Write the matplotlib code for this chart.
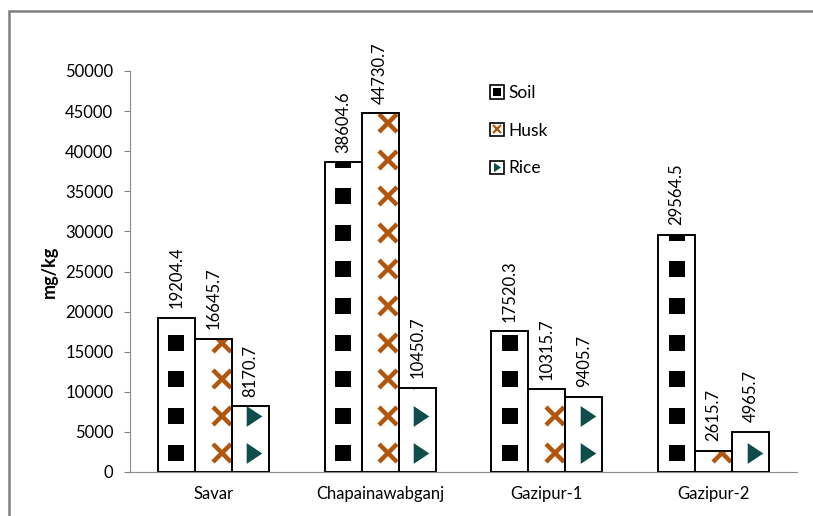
import matplotlib
matplotlib.use("Agg")
from matplotlib import pyplot as plt
from matplotlib.patches import Rectangle, Patch
from matplotlib.lines import Line2D
import numpy as np

plt.rcParams["font.family"] = ["Lato", "DejaVu Sans"]

categories = ["Savar", "Chapainawabganj", "Gazipur-1", "Gazipur-2"]
soil = [19204.4, 38604.6, 17520.3, 29564.5]
husk = [16645.7, 44730.7, 10315.7, 2615.7]
rice = [8170.7, 10450.7, 9405.7, 4965.7]

series_names = ["Soil", "Husk", "Rice"]
HUSK_COLOR = "#b2560d"
RICE_COLOR = "#0d4d4a"
TRI = [(-0.75, -1.0), (0.75, 0.0), (-0.75, 1.0)]

# pattern fill: one marker per row, clipped to the bar outline
PATTERN_START = 2400
PATTERN_STEP = 4570
patterns = [
    dict(marker="s", ms=12, color="black", mew=0, dx=0.0),
    dict(marker="x", ms=13, color=HUSK_COLOR, mew=3.2, dx=0.05),
    dict(marker=TRI, ms=15, color=RICE_COLOR, mew=0, dx=0.024),
]

fig = plt.figure(figsize=(8.13, 5.16), dpi=100)
ax = fig.add_axes([130 / 813, 1 - 472 / 516, 667 / 813, 401 / 516])

x = np.arange(len(categories))
width = 0.222
for i, vals in enumerate([soil, husk, rice]):
    pos = x + (i - 1) * width
    bars = ax.bar(pos, vals, width, facecolor="white", edgecolor="black",
                  linewidth=1.2, zorder=3)
    p = patterns[i]
    for bar, xc, v in zip(bars, pos, vals):
        ys = np.arange(PATTERN_START, v + PATTERN_STEP, PATTERN_STEP)
        ln, = ax.plot(np.full(len(ys), xc + p["dx"]), ys, ls="none",
                      marker=p["marker"], ms=p["ms"], color=p["color"],
                      mew=p["mew"], zorder=4)
        ln.set_clip_path(bar)
        ax.annotate(f"{v:.1f}", (xc, v), xytext=(0, 7), textcoords="offset points",
                    rotation=90, ha="center", va="bottom", fontsize=12)
    # redraw outlines on top of the pattern
    ax.bar(pos, vals, width, facecolor="none", edgecolor="black",
           linewidth=1.2, zorder=5)

ax.set_xlim(-0.5, 3.5)
ax.set_ylim(0, 50000)
ax.set_yticks(np.arange(0, 50001, 5000))
ax.set_xticks(x)
ax.set_xticklabels(categories)
ax.tick_params(axis="x", length=0, pad=10, labelsize=12)
ax.tick_params(axis="y", length=4, width=0.8, color="#808080", pad=8, labelsize=12)
for s in ["top", "right"]:
    ax.spines[s].set_visible(False)
for s in ["left", "bottom"]:
    ax.spines[s].set_color("#8c8c8c")
    ax.spines[s].set_linewidth(0.8)
ax.set_ylabel("mg/kg", fontsize=13, fontweight="bold", labelpad=5)

handles = []
for p in patterns:
    box = Patch(facecolor="white", edgecolor="black", linewidth=1.2)
    mk = Line2D([], [], ls="none", marker=p["marker"], color=p["color"],
                ms=p["ms"] * 0.45, mew=p["mew"] * 0.5)
    handles.append((box, mk))
fig.legend(handles, series_names, loc="upper left",
           bbox_to_anchor=(490 / 813, 1 - 85 / 516), frameon=False,
           fontsize=12.5, handlelength=0.8, handleheight=0.8,
           handletextpad=0.25, labelspacing=1.25, borderpad=0, borderaxespad=0)

fig.patches.append(Rectangle((9 / 813, -0.2), 1.2, 1.2 - 11 / 516,
                             transform=fig.transFigure, fill=False,
                             edgecolor="#7f7f7f", linewidth=1.8))

fig.savefig("out.png", dpi=100)
